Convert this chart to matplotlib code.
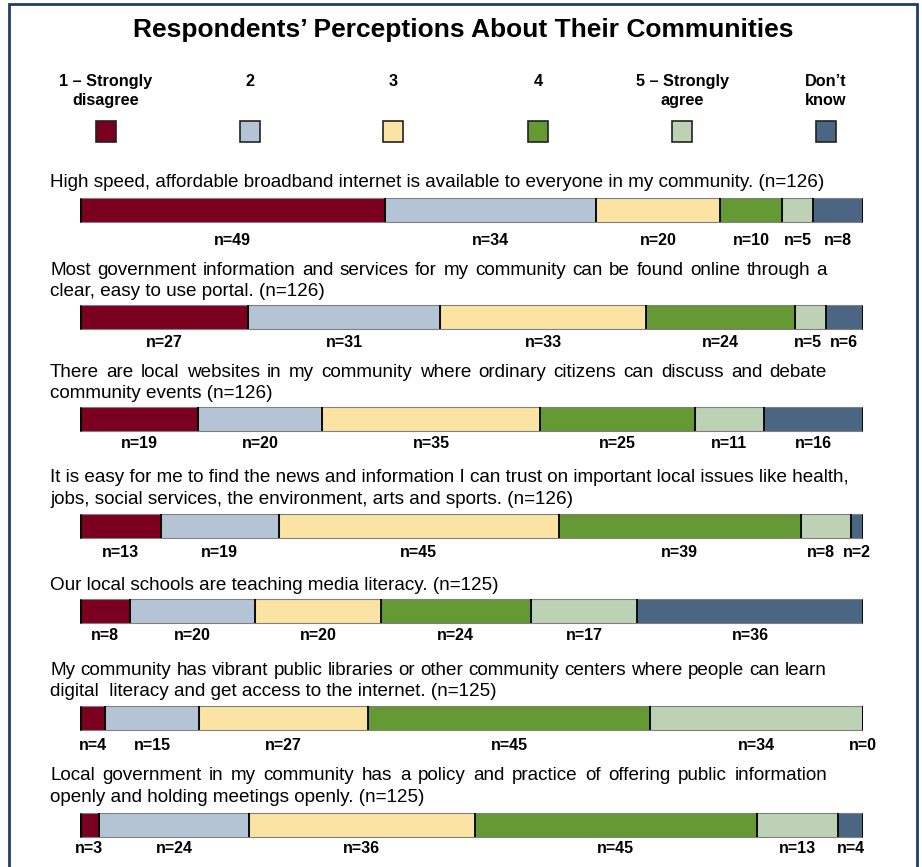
import matplotlib
matplotlib.use("Agg")
import matplotlib.pyplot as plt
import numpy as np
from matplotlib.patches import Rectangle

plt.rcParams['font.family'] = ['Liberation Sans', 'DejaVu Sans']

W, H = 922, 867

categories = ["1 \u2013 Strongly\ndisagree", "2", "3", "4", "5 \u2013 Strongly\nagree", "Don\u2019t\nknow"]
colors = ["#7B0020", "#B4C4D4", "#FBE3A3", "#659933", "#BDD1B5", "#4A6683"]

questions = [
    ["High speed, affordable broadband internet is available to everyone in my community. (n=126)"],
    ["Most government information and services for my community can be found online through a",
     "clear, easy to use portal. (n=126)"],
    ["There are local websites in my community where ordinary citizens can discuss and debate",
     "community events (n=126)"],
    ["It is easy for me to find the news and information I can trust on important local issues like health,",
     "jobs, social services, the environment, arts and sports. (n=126)"],
    ["Our local schools are teaching media literacy. (n=125)"],
    ["My community has vibrant public libraries or other community centers where people can learn",
     "digital  literacy and get access to the internet. (n=125)"],
    ["Local government in my community has a policy and practice of offering public information",
     "openly and holding meetings openly. (n=125)"],
]

counts = np.array([
    [49, 34, 20, 10, 5, 8],
    [27, 31, 33, 24, 5, 6],
    [19, 20, 35, 25, 11, 16],
    [13, 19, 45, 39, 8, 2],
    [8, 20, 20, 24, 17, 36],
    [4, 15, 27, 45, 34, 0],
    [3, 24, 36, 45, 13, 4],
])

# layout in pixel units (y measured from top, text given as baselines)
bar_y = [210, 317, 419, 525.5, 610.5, 718, 825]
text_y = [[187], [275, 296], [377, 398], [482, 504], [590], [675, 696], [780, 802]]
label_y = [245, 347, 448, 557, 640, 750, 853]
justified = [False, True, True, False, False, True, True]
bar_h = 24
x0, x1 = 80, 863
text_x0, text_x1 = 50, 827
q_size = 13.55

fig = plt.figure(figsize=(W / 100, H / 100), dpi=100)


def fx(px):
    return px / W


def fy(py):
    return 1 - py / H


# frame
fig.patches.append(Rectangle((fx(9), fy(885)), fx(917) - fx(9), fy(4) - fy(885),
                             transform=fig.transFigure, fill=False,
                             edgecolor="#1F3D6B", linewidth=2))

fig.text(fx(463), fy(30), "Respondents\u2019 Perceptions About Their Communities",
         ha="center", va="center", fontsize=19, fontweight="bold")

# legend
leg_x = [106, 250, 393, 538, 682, 826]
for cx, lab, col in zip(leg_x, categories, colors):
    fig.text(fx(cx), fy(74), lab, ha="center", va="top", fontsize=11.7,
             fontweight="bold", linespacing=1.32)
    fig.patches.append(Rectangle((fx(cx - 10), fy(142)), 20 / W, 21 / H,
                                 transform=fig.transFigure, facecolor=col,
                                 edgecolor="#222222", linewidth=1.2))

renderer = fig.canvas.get_renderer()


def draw_line(s, py, justify):
    if not justify:
        fig.text(fx(text_x0), fy(py), s, ha="left", va="baseline", fontsize=q_size)
        return
    words = s.split()
    widths = []
    for w in words:
        t = fig.text(0, 0, w, fontsize=q_size)
        widths.append(t.get_window_extent(renderer).width)
        t.remove()
    gap = (text_x1 - text_x0 - sum(widths)) / (len(words) - 1)
    x = text_x0
    for w, wd in zip(words, widths):
        fig.text(fx(x), fy(py), w, ha="left", va="baseline", fontsize=q_size)
        x += wd + gap


for lines, ys, just in zip(questions, text_y, justified):
    for i, (s, py) in enumerate(zip(lines, ys)):
        draw_line(s, py, just and i == 0)

ax = fig.add_axes([fx(x0), 0, fx(x1) - fx(x0), 1])
ax.set_xlim(0, 1)
ax.set_ylim(H, 0)
ax.axis("off")

for row, y, ly in zip(counts, bar_y, label_y):
    share = row / row.sum()
    left = np.concatenate([[0], np.cumsum(share)[:-1]])
    ax.barh(y, share, left=left, height=bar_h, color=colors,
            edgecolor="#808080", linewidth=0.8)
    bounds = np.concatenate([[0], np.cumsum(share)])
    ax.vlines(bounds[1:-1], y - bar_h / 2, y + bar_h / 2, color="black", linewidth=1.3)
    ax.vlines([0, 1], y - bar_h / 2, y + bar_h / 2, color="black", linewidth=2)
    centers = left + share / 2
    # keep neighbouring count labels from running into each other
    pos = list(centers)
    min_gap = 36 / (x1 - x0)
    for k in range(len(pos) - 2, -1, -1):
        if pos[k + 1] - pos[k] < min_gap:
            pos[k] = pos[k + 1] - min_gap
    for p, n in zip(pos, row):
        ax.text(p, ly, f"n={n}", ha="center", va="baseline",
                fontsize=11.5, fontweight="bold")

fig.savefig("out.png", dpi=100)
